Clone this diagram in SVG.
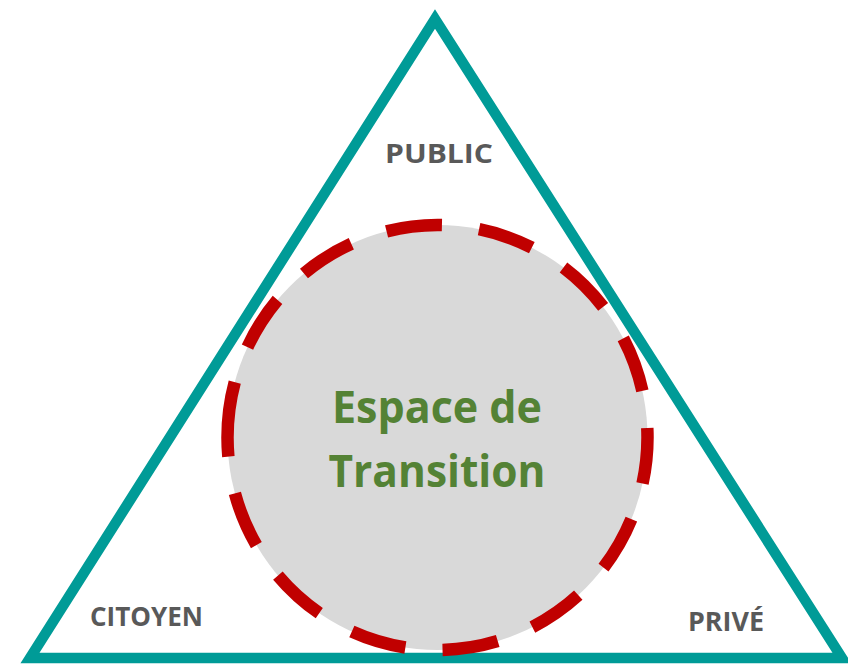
<svg xmlns="http://www.w3.org/2000/svg" width="848" height="667" viewBox="0 0 848 667">
  <style>
    .lbl { font-family: "Open Sans", "Liberation Sans", sans-serif; font-weight: bold; fill: #595959; font-size: 27.5px; }
    .main { font-family: "Open Sans", "Liberation Sans", sans-serif; font-weight: bold; fill: #548235; font-size: 45px; }
  </style>
  <rect width="848" height="667" fill="#ffffff"/>
  <g id="triangle">
    <polygon points="435,19 30,658 842,658" fill="none" stroke="#009B97" stroke-width="10.5" stroke-linejoin="miter" stroke-miterlimit="10"/>
  </g>
  <g id="espace">
    <ellipse cx="437.5" cy="437.5" rx="210" ry="212.5" fill="#D9D9D9"/>
    <path d="M227.5,437.5 A210,212.5 0 0 1 647.5,437.5 A210,212.5 0 0 1 227.5,437.5" fill="none" stroke="#C00000" stroke-width="12.5" stroke-dasharray="56 37.4"/>
    <text class="main" x="437" y="423" text-anchor="middle" textLength="210" lengthAdjust="spacingAndGlyphs">Espace de</text>
    <text class="main" x="437" y="487" text-anchor="middle" textLength="217" lengthAdjust="spacingAndGlyphs">Transition</text>
  </g>
  <g id="public">
    <text class="lbl" x="439" y="163" text-anchor="middle" textLength="108" lengthAdjust="spacingAndGlyphs">PUBLIC</text>
  </g>
  <g id="citoyen">
    <text class="lbl" x="146.5" y="626" text-anchor="middle" textLength="113" lengthAdjust="spacingAndGlyphs">CITOYEN</text>
  </g>
  <g id="prive">
    <text class="lbl" x="726" y="631" text-anchor="middle" textLength="76" lengthAdjust="spacingAndGlyphs">PRIVÉ</text>
  </g>
</svg>
